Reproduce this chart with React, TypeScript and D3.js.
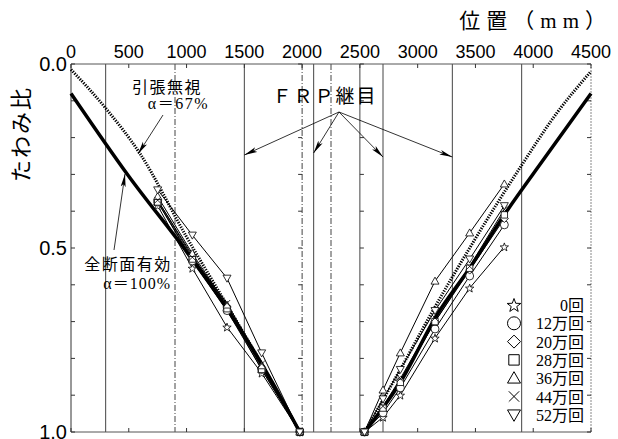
import React from 'react';
import * as d3 from 'd3';

const W = 618;
const H = 439;

// axis ticks
const xTickValues = [0, 500, 1000, 1500, 2000, 2500, 3000, 3500, 4000, 4500];
const yTickLabels = [0.0, 0.5, 1.0];
const yMinorTicks = [0, 0.1, 0.2, 0.3, 0.4, 0.5, 0.6, 0.7, 0.8, 0.9, 1.0];

// vertical reference lines (FRP joints etc.)
const refLines = [300, 900, 1500, 2000, 2100, 2250, 2500, 2700, 3300, 3900];
const refStyles = ['solid', 'dashdot', 'solid', 'dashdot', 'solid', 'dashdot', 'solid', 'solid', 'solid', 'solid'];

// measurement positions (mm)
const leftPositions = [750, 1050, 1350, 1650, 1980];
const rightPositions = [2540, 2700, 2850, 3150, 3450, 3750];

// legend labels
const cycleLabels = ['0回', '12万回', '20万回', '28万回', '36万回', '44万回', '52万回'];
const markerTypes = ['star', 'circle', 'diamond', 'square', 'triUp', 'cross', 'triDown'];

// deflection ratio, left span
const left0 = [0.385, 0.555, 0.715, 0.84, 1.0];
const left12 = [0.375, 0.535, 0.67, 0.83, 1.0];
const left20 = [0.37, 0.52, 0.66, 0.825, 1.0];
const left28 = [0.375, 0.53, 0.665, 0.83, 1.0];
const left36 = [0.36, 0.515, 0.655, 0.82, 1.0];
const left44 = [0.37, 0.525, 0.65, 0.815, 1.0];
const left52 = [0.342, 0.465, 0.582, 0.785, 1.0];

// deflection ratio, right span
const right0 = [1.0, 0.96, 0.9, 0.745, 0.609, 0.497];
const right12 = [1.0, 0.948, 0.88, 0.72, 0.576, 0.437];
const right20 = [1.0, 0.93, 0.86, 0.7, 0.56, 0.42];
const right28 = [1.0, 0.935, 0.865, 0.7, 0.555, 0.41];
const right36 = [1.0, 0.886, 0.785, 0.59, 0.459, 0.326];
const right44 = [1.0, 0.93, 0.855, 0.69, 0.55, 0.395];
const right52 = [1.0, 0.91, 0.83, 0.67, 0.53, 0.385];

// theoretical curves: full section effective (α=100%)
const fullX_L = [0, 500, 1000, 1350, 1650, 1980];
const fullY_L = [0.08, 0.305, 0.51, 0.665, 0.815, 1.0];
const fullX_R = [2540, 2850, 3170, 3460, 3760, 4100, 4500];
const fullY_R = [1.0, 0.865, 0.68, 0.55, 0.405, 0.255, 0.08];
// tension ignored (α=67%)
const crackX_L = [0, 300, 600, 1000, 1350, 1650, 1980];
const crackY_L = [0.015, 0.12, 0.245, 0.47, 0.655, 0.815, 1.0];
const crackX_R = [2540, 2850, 3150, 3450, 3900, 4200, 4500];
const crackY_R = [1.0, 0.83, 0.66, 0.5, 0.275, 0.135, 0.02];

const leftSeries = [left0, left12, left20, left28, left36, left44, left52];
const rightSeries = [right0, right12, right20, right28, right36, right44, right52];

const x = d3.scaleLinear().domain([0, 4500]).range([71, 591]);
const y = d3.scaleLinear().domain([0, 1]).range([64, 432]);

function markerPath(type: string, s: number): string {
  switch (type) {
    case 'star': {
      const pts: string[] = [];
      for (let i = 0; i < 10; i++) {
        const r = i % 2 === 0 ? s * 1.1 : s * 0.45;
        const a = -Math.PI / 2 + (i * Math.PI) / 5;
        pts.push(`${(r * Math.cos(a)).toFixed(2)},${(r * Math.sin(a) + s * 0.1).toFixed(2)}`);
      }
      return 'M' + pts.join('L') + 'Z';
    }
    case 'circle':
      return `M${s},0A${s},${s} 0 1,1 ${-s},0A${s},${s} 0 1,1 ${s},0Z`;
    case 'diamond':
      return `M0,${-s}L${s},0L0,${s}L${-s},0Z`;
    case 'square': {
      const q = s * 0.8;
      return `M${-q},${-q}L${q},${-q}L${q},${q}L${-q},${q}Z`;
    }
    case 'triUp':
      return `M0,${-s}L${s},${s * 0.75}L${-s},${s * 0.75}Z`;
    case 'triDown':
      return `M0,${s}L${s},${-s * 0.75}L${-s},${-s * 0.75}Z`;
    case 'cross':
      return `M${-s * 0.8},${-s * 0.8}L${s * 0.8},${s * 0.8}M${s * 0.8},${-s * 0.8}L${-s * 0.8},${s * 0.8}`;
  }
  return '';
}

const lineGen = d3
  .line<[number, number]>()
  .x((d) => x(d[0]))
  .y((d) => y(d[1]));

const curveGen = d3
  .line<[number, number]>()
  .curve(d3.curveMonotoneX)
  .x((d) => x(d[0]))
  .y((d) => y(d[1]));

const zip = (xs: number[], ys: number[]): [number, number][] => xs.map((v, i) => [v, ys[i]]);

const jpFont = "'Liberation Serif', 'Noto Sans CJK JP', serif";
const numFont = "'Liberation Sans', Arial, sans-serif";

export default function App() {
  const x0 = x(0);
  const x1 = x(4500);
  const y0 = y(0);
  const y1 = y(1);
  const legendX = 514;
  const legendY = 305;
  const legendStep = 18.3;

  const frpFrom: [number, number] = [339, 112];
  const frpTargets: [number, number][] = [
    [x(1500), 155],
    [x(2100), 153],
    [x(2700), 157],
    [x(3300), 157],
  ];

  return (
    <svg width={W} height={H} style={{ position: 'absolute', left: 0, top: 0, background: '#fff' }}>
      <defs>
        <marker id="arr" viewBox="0 0 13 6" refX="13" refY="3" markerWidth="13" markerHeight="6" orient="auto" markerUnits="userSpaceOnUse">
          <path d="M0,0.5L13,3L0,5.5L3,3Z" fill="#000" />
        </marker>
      </defs>
      <rect x={0} y={0} width={W} height={H} fill="#fff" />

      {/* reference vertical lines */}
      {refLines.map((v, i) => (
        <line
          key={'r' + i}
          x1={x(v)}
          x2={x(v)}
          y1={y0}
          y2={y1}
          stroke="#444"
          strokeWidth={1}
          strokeDasharray={refStyles[i] === 'dashdot' ? '6,2,1,2' : undefined}
        />
      ))}

      {/* frame */}
      <line x1={x0} x2={x1} y1={y0} y2={y0} stroke="#555" strokeWidth={1} />
      <line x1={x0} x2={x1} y1={y1} y2={y1} stroke="#555" strokeWidth={1} />
      <line x1={x0} x2={x0} y1={y0} y2={y1} stroke="#333" strokeWidth={1} />
      <line x1={x1} x2={x1} y1={y0} y2={y1} stroke="#888" strokeWidth={1} strokeDasharray="2,1" />

      {/* x ticks top & bottom */}
      {xTickValues.map((v) => (
        <g key={'xt' + v}>
          <line x1={x(v)} x2={x(v)} y1={y0} y2={y0 + 4} stroke="#333" />
          <line x1={x(v)} x2={x(v)} y1={y1} y2={y1 - 4} stroke="#333" />
          <text x={x(v)} y={y0 - 6} textAnchor="middle" fontFamily={numFont} fontSize={18} fill="#000">
            {v}
          </text>
        </g>
      ))}

      {/* y ticks on frame and panel borders */}
      {yMinorTicks.map((v) => (
        <g key={'yt' + v}>
          <line x1={x0} x2={x0 + 4} y1={y(v)} y2={y(v)} stroke="#333" />
          <line x1={x1} x2={x1 - 4} y1={y(v)} y2={y(v)} stroke="#333" />
          <line x1={x(2000)} x2={x(2000) - 4} y1={y(v)} y2={y(v)} stroke="#333" />
          <line x1={x(2500)} x2={x(2500) + 4} y1={y(v)} y2={y(v)} stroke="#333" />
        </g>
      ))}
      {yTickLabels.map((v) => (
        <text key={'yl' + v} x={x0 - 4} y={y(v) + 7} textAnchor="end" fontFamily={numFont} fontSize={20} fill="#000">
          {v.toFixed(1)}
        </text>
      ))}

      {/* theoretical lines */}
      <path d={curveGen(zip(crackX_L, crackY_L)) || ''} fill="none" stroke="#000" strokeWidth={3} strokeDasharray="1.3,1.3" />
      <path d={curveGen(zip(crackX_R, crackY_R)) || ''} fill="none" stroke="#000" strokeWidth={3} strokeDasharray="1.3,1.3" />
      <path d={curveGen(zip(fullX_L, fullY_L)) || ''} fill="none" stroke="#000" strokeWidth={3.5} />
      <path d={curveGen(zip(fullX_R, fullY_R)) || ''} fill="none" stroke="#000" strokeWidth={3.5} />

      {/* measured lines */}
      {leftSeries.map((s, i) => (
        <path key={'ll' + i} d={lineGen(zip(leftPositions, s)) || ''} fill="none" stroke="#000" strokeWidth={1} />
      ))}
      {rightSeries.map((s, i) => (
        <path key={'rl' + i} d={lineGen(zip(rightPositions, s)) || ''} fill="none" stroke="#000" strokeWidth={1} />
      ))}
      {leftSeries.map((s, i) =>
        s.map((v, j) => (
          <path
            key={'lm' + i + '-' + j}
            d={markerPath(markerTypes[i], 4)}
            transform={`translate(${x(leftPositions[j])},${y(v)})`}
            fill="#fff"
            stroke="#000"
            strokeWidth={0.8}
          />
        ))
      )}
      {rightSeries.map((s, i) =>
        s.map((v, j) => (
          <path
            key={'rm' + i + '-' + j}
            d={markerPath(markerTypes[i], 4)}
            transform={`translate(${x(rightPositions[j])},${y(v)})`}
            fill="#fff"
            stroke="#000"
            strokeWidth={0.8}
          />
        ))
      )}

      {/* legend */}
      {cycleLabels.map((lab, i) => (
        <g key={'lg' + i}>
          <path
            d={markerPath(markerTypes[i], 6.5)}
            transform={`translate(${legendX},${legendY + i * legendStep})`}
            fill="#fff"
            stroke="#000"
            strokeWidth={1}
          />
          <text x={584} y={legendY + i * legendStep + 6} textAnchor="end" fontFamily={jpFont} fontSize={16} fill="#000">
            {lab}
          </text>
        </g>
      ))}

      {/* annotations */}
      <text x={167} y={93} textAnchor="middle" fontFamily={jpFont} fontSize={16} letterSpacing={1.5} fill="#000">
        引張無視
      </text>
      <text x={209} y={109} textAnchor="end" fontFamily={jpFont} fontSize={16} letterSpacing={1.5} fill="#000">
        α＝67%
      </text>
      <line x1={163} y1={115} x2={138} y2={154} stroke="#000" strokeWidth={0.8} markerEnd="url(#arr)" />

      <text x={128} y={270} textAnchor="middle" fontFamily={jpFont} fontSize={16} letterSpacing={1.5} fill="#000">
        全断面有効
      </text>
      <text x={171} y={289} textAnchor="end" fontFamily={jpFont} fontSize={16} letterSpacing={1} fill="#000">
        α＝100%
      </text>
      <line x1={114} y1={250} x2={125} y2={174} stroke="#000" strokeWidth={0.8} markerEnd="url(#arr)" />

      <text x={325} y={103} textAnchor="middle" fontFamily={jpFont} fontSize={19} letterSpacing={2} fill="#000">
        ＦＲＰ継目
      </text>
      {frpTargets.map((t, i) => (
        <line key={'fa' + i} x1={frpFrom[0]} y1={frpFrom[1]} x2={t[0]} y2={t[1]} stroke="#000" strokeWidth={0.8} markerEnd="url(#arr)" />
      ))}

      <text x={21} y={134} transform="rotate(-90,21,134)" textAnchor="middle" dominantBaseline="central" fontFamily={jpFont} fontSize={22} letterSpacing={2} fill="#000">
        たわみ比
      </text>
      <text x={612} y={28} textAnchor="end" fontFamily={jpFont} fontSize={21} letterSpacing={6} fill="#000">
        位置（mm）
      </text>
    </svg>
  );
}
